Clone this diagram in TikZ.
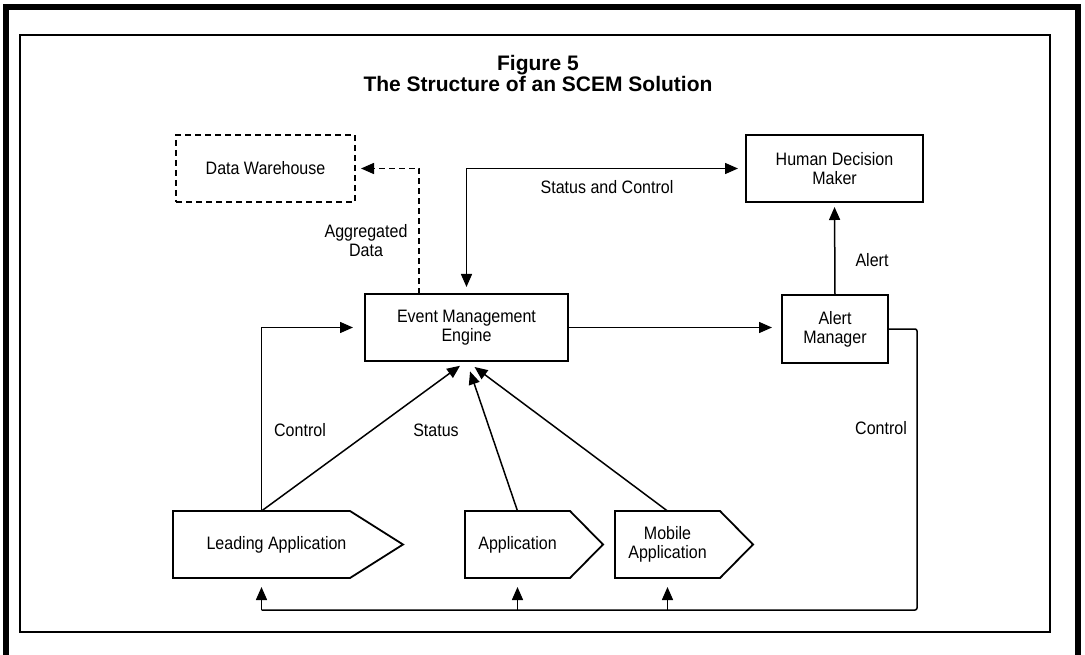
\documentclass[tikz,border=0pt]{standalone}
\usepackage{fontspec}
\setmainfont{Liberation Sans}[FakeStretch=0.89]
\newfontfamily\titlefont{Liberation Sans}
\usetikzlibrary{arrows.meta,calc}
\begin{document}
\begin{tikzpicture}[x=1pt,y=-1pt,
  every node/.style={font=\fontsize{18}{19}\selectfont},
  box/.style={draw, line width=1.8pt, inner sep=0pt, outer sep=0pt, align=center},
  appbox/.style={inner sep=0pt, outer sep=0pt, align=center, minimum height=67pt},
  outline/.style={line width=1.8pt, line join=miter},
  conn/.style={line width=1.5pt},
  tip/.style={-{Triangle[length=13pt,width=11pt]}},
  lbl/.style={inner sep=0pt, align=center},
]
\useasboundingbox (0,0) rectangle (1085,655);
% frames
\draw[line width=6pt] (6,655) -- (6,7) -- (1078,7) -- (1078,655);
\draw[line width=2.5pt] (20,35) rectangle (1050,632);
% title
\node[lbl, font=\titlefont\fontsize{21}{21}\selectfont\bfseries] (title) at (538,73) {Figure 5\\The Structure of an SCEM Solution};
% boxes
\node[box, dashed, dash pattern=on 6pt off 4pt, line width=1.8pt, minimum width=179pt, minimum height=67pt] (dw) at (265.5,168.5) {Data Warehouse};
\node[box, minimum width=177pt, minimum height=67pt] (hdm) at (834.5,168.5) {Human Decision\\Maker};
\node[box, minimum width=203pt, minimum height=67pt] (eme) at (466.5,327.5) {Event Management\\Engine};
\node[box, minimum width=106pt, minimum height=68pt] (am) at (835,329) {Alert\\Manager};
% application shapes
\node[appbox, minimum width=177pt, label={[lbl, xshift=15pt]center:Leading Application}] (la) at (261.5,544.5) {};
\node[appbox, minimum width=105pt] (app) at (517.5,544.5) {Application};
\node[appbox, minimum width=105pt] (mob) at (667.5,544.5) {Mobile\\Application};
\draw[outline] (la.north west) -- (la.north east) -- ([xshift=53pt]la.east) -- (la.south east) -- (la.south west) -- cycle;
\draw[outline] (app.north west) -- (app.north east) -- ([xshift=33pt]app.east) -- (app.south east) -- (app.south west) -- cycle;
\draw[outline] (mob.north west) -- (mob.north east) -- ([xshift=33pt]mob.east) -- (mob.south east) -- (mob.south west) -- cycle;
% connectors
\coordinate (dx) at ($(eme.north west)+(54,0)$);
\draw[conn, tip, dash pattern=on 6pt off 4pt, shorten >=6pt] (dx) |- (dw.east);
\draw[conn, {Triangle[length=13pt,width=11pt]}-{Triangle[length=13pt,width=11pt]}, shorten <=8pt, shorten >=7pt] (hdm.west) -| (eme.north);
\draw[conn, tip, shorten >=10pt] (eme.east) -- (eme.east -| am.west);
\draw[conn, tip, shorten >=5pt] (am.north) -- (hdm.south);
\draw[conn, tip, shorten >=12pt] (la.north) |- (eme.west);
\draw[conn, tip, shorten >=8pt] (la.north) -- (eme.south);
\draw[conn, tip, shorten >=11pt] (app.north) -- (eme.south);
\draw[conn, tip, shorten >=10pt] (mob.north) -- (eme.south);
\coordinate (cr) at (917,610);
\draw[conn, rounded corners=2pt] (am.east) -| (cr) -- (la.south |- cr);
\draw[conn, tip, shorten >=9pt] (la.south |- cr) -- (la.south);
\draw[conn, tip, shorten >=9pt] (app.south |- cr) -- (app.south);
\draw[conn, tip, shorten >=9pt] (mob.south |- cr) -- (mob.south);
% labels
\node[lbl] (agg) at (366,241) {Aggregated\\Data};
\node[lbl] (sc) at (607,187) {Status and Control};
\node[lbl] (al) at (872,260) {Alert};
\node[lbl] (cR) at (881,428) {Control};
\node[lbl] (cL) at (300,430) {Control};
\node[lbl] (st) at (436,430) {Status};
\end{tikzpicture}
\end{document}
